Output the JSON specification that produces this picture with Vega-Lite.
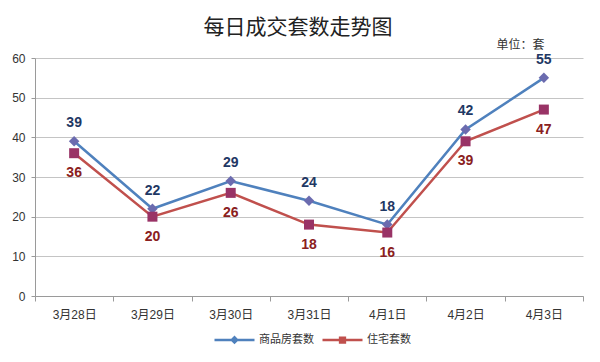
{
  "$schema": "https://vega.github.io/schema/vega-lite/v6.json",
  "autosize": {"type": "none"},
  "width": 548,
  "height": 238,
  "padding": {"left": 35, "top": 58, "right": 17, "bottom": 66},
  "background": "white",
  "title": {
    "text": "每日成交套数走势图",
    "font": "Noto Sans CJK SC",
    "fontSize": 21,
    "fontWeight": "normal",
    "color": "#222222",
    "anchor": "middle",
    "dx": -11,
    "offset": 0
  },
  "config": {
    "view": {"stroke": null},
    "font": "Liberation Sans",
    "axis": {
      "labelFont": "Liberation Sans, Noto Sans CJK SC",
      "labelFontSize": 12,
      "labelColor": "#333333",
      "domainColor": "#9a9a9a",
      "tickColor": "#9a9a9a",
      "gridColor": "#c4c4c4"
    }
  },
  "data": {
    "values": [
      {"date": "3月28日", "series": "商品房套数", "value": 39},
      {"date": "3月29日", "series": "商品房套数", "value": 22},
      {"date": "3月30日", "series": "商品房套数", "value": 29},
      {"date": "3月31日", "series": "商品房套数", "value": 24},
      {"date": "4月1日", "series": "商品房套数", "value": 18},
      {"date": "4月2日", "series": "商品房套数", "value": 42},
      {"date": "4月3日", "series": "商品房套数", "value": 55},
      {"date": "3月28日", "series": "住宅套数", "value": 36},
      {"date": "3月29日", "series": "住宅套数", "value": 20},
      {"date": "3月30日", "series": "住宅套数", "value": 26},
      {"date": "3月31日", "series": "住宅套数", "value": 18},
      {"date": "4月1日", "series": "住宅套数", "value": 16},
      {"date": "4月2日", "series": "住宅套数", "value": 39},
      {"date": "4月3日", "series": "住宅套数", "value": 47}
    ]
  },
  "encoding": {
    "x": {
      "field": "date",
      "type": "ordinal",
      "sort": null,
      "scale": {"type": "band", "paddingInner": 0, "paddingOuter": 0},
      "axis": {
        "title": null,
        "labelAngle": 0,
        "labelPadding": 8,
        "tickBand": "extent",
        "tickSize": 5,
        "grid": false
      }
    },
    "y": {
      "field": "value",
      "type": "quantitative",
      "scale": {"domain": [0, 60], "nice": false},
      "axis": {
        "values": [0, 10, 20, 30, 40, 50, 60],
        "tickSize": 4,
        "labelPadding": 6,
        "title": "单位：套",
        "titleAngle": 0,
        "titleX": 461,
        "titleY": -7,
        "titleAlign": "left",
        "titleBaseline": "bottom",
        "titleFont": "Noto Sans CJK SC",
        "titleFontSize": 12,
        "titleFontWeight": "normal",
        "titleColor": "#333333"
      }
    }
  },
  "layer": [
    {
      "mark": {"type": "line", "strokeWidth": 2.5},
      "encoding": {
        "color": {
          "field": "series",
          "type": "nominal",
          "sort": ["商品房套数", "住宅套数"],
          "scale": {"domain": ["商品房套数", "住宅套数"], "range": ["#4F81BD", "#C0504D"]},
          "legend": {
            "title": null,
            "orient": "none",
            "direction": "horizontal",
            "legendX": 178,
            "legendY": 260,
            "symbolType": "M-1,0L1,0",
            "symbolSize": 1600,
            "symbolStrokeWidth": 2.5,
            "labelFont": "Noto Sans CJK SC",
            "labelFontSize": 11,
            "labelColor": "#333333",
            "labelOffset": 3,
            "columnPadding": 3,
            "encode": {
              "symbols": {
                "update": {
                  "shape": {"signal": "datum.value == '商品房套数' ? 'M-1,0L1,0M-0.13,0L0,-0.13L0.13,0L0,0.13Z' : 'M-1,0L1,0M-0.12,-0.12L0.12,-0.12L0.12,0.12L-0.12,0.12Z'"},
                  "fill": {"signal": "datum.value == '商品房套数' ? '#6B6BAF' : '#993366'"}
                }
              }
            }
          }
        }
      }
    },
    {
      "transform": [{"filter": "datum.series == '商品房套数'"}],
      "mark": {"type": "point", "filled": true, "opacity": 1, "size": 110, "shape": "diamond", "color": "#6B6BAF"}
    },
    {
      "transform": [{"filter": "datum.series == '住宅套数'"}],
      "mark": {"type": "point", "filled": true, "opacity": 1, "size": 100, "shape": "square", "color": "#993366"}
    },
    {
      "transform": [{"filter": "datum.series == '商品房套数'"}],
      "mark": {"type": "text", "dy": -18, "fontSize": 14, "fontWeight": "bold", "font": "Liberation Sans", "color": "#1F3864"},
      "encoding": {"text": {"field": "value", "type": "quantitative"}}
    },
    {
      "transform": [{"filter": "datum.series == '住宅套数'"}],
      "mark": {"type": "text", "dy": 20, "fontSize": 14, "fontWeight": "bold", "font": "Liberation Sans", "color": "#8A2020"},
      "encoding": {"text": {"field": "value", "type": "quantitative"}}
    }
  ]
}
